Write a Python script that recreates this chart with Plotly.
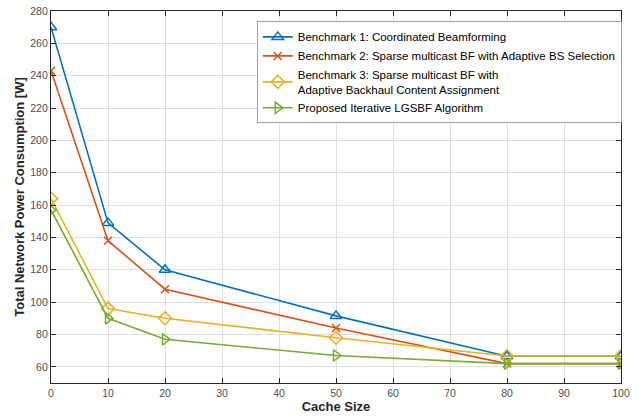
import plotly.graph_objects as go

cache_size = [0, 10, 20, 50, 80, 100]
bench1 = [270, 149, 120, 91.5, 66.5, 66.5]
bench2 = [243, 138, 108, 84, 62, 62]
bench3 = [164, 96, 90, 78, 66.7, 66.7]
proposed = [157, 90, 77, 67, 62, 62]

names = [
    "Benchmark 1: Coordinated Beamforming",
    "Benchmark 2: Sparse multicast BF with Adaptive BS Selection",
    "Benchmark 3: Sparse multicast BF with<br>Adaptive Backhaul Content Assignment",
    "Proposed Iterative LGSBF Algorithm",
]
colors = ["#0072BD", "#D95319", "#EDB120", "#77AC30"]
symbols = ["triangle-up-open", "x-thin-open", "diamond-open", "triangle-right-open"]
sizes = [10, 8, 10, 10]
series = [bench1, bench2, bench3, proposed]

fig = go.Figure()
for n, c, s, sz, y in zip(names, colors, symbols, sizes, series):
    fig.add_trace(go.Scatter(
        x=cache_size, y=y, name=n, mode="lines+markers",
        line=dict(color=c, width=1.6),
        marker=dict(symbol=s, size=sz, color=c, line=dict(color=c, width=1.5)),
    ))

axis_common = dict(
    showgrid=True, gridcolor="#DFDFDF", gridwidth=1,
    showline=True, linecolor="#262626", linewidth=1.2, mirror="allticks",
    ticks="inside", ticklen=5, tickcolor="#262626",
    tickfont=dict(family="Liberation Sans, Arial", size=10.5, color="#4D4D4D"),
    zeroline=False, automargin=False,
)
fig.update_xaxes(range=[0, 100], dtick=10, **axis_common,
                 title=dict(text="<b>Cache Size</b>", standoff=4,
                            font=dict(family="Liberation Sans, Arial", size=13, color="#262626")))
fig.update_yaxes(range=[50, 280], dtick=20, tick0=60, **axis_common,
                 title=dict(text="<b>Total Network Power Consumption [W]</b>", standoff=2,
                            font=dict(family="Liberation Sans, Arial", size=13, color="#262626")))

fig.update_layout(
    width=639, height=419,
    margin=dict(l=51, r=18, t=11, b=36),
    plot_bgcolor="white", paper_bgcolor="white",
    showlegend=True,
    legend=dict(
        x=0.361, y=0.972, xanchor="left", yanchor="top",
        bgcolor="white", bordercolor="#A0A0A0", borderwidth=1,
        font=dict(family="Liberation Sans, Arial", size=11.5, color="#000000"),
        tracegroupgap=0, itemwidth=30,
    ),
)

fig.write_html("out.html")
